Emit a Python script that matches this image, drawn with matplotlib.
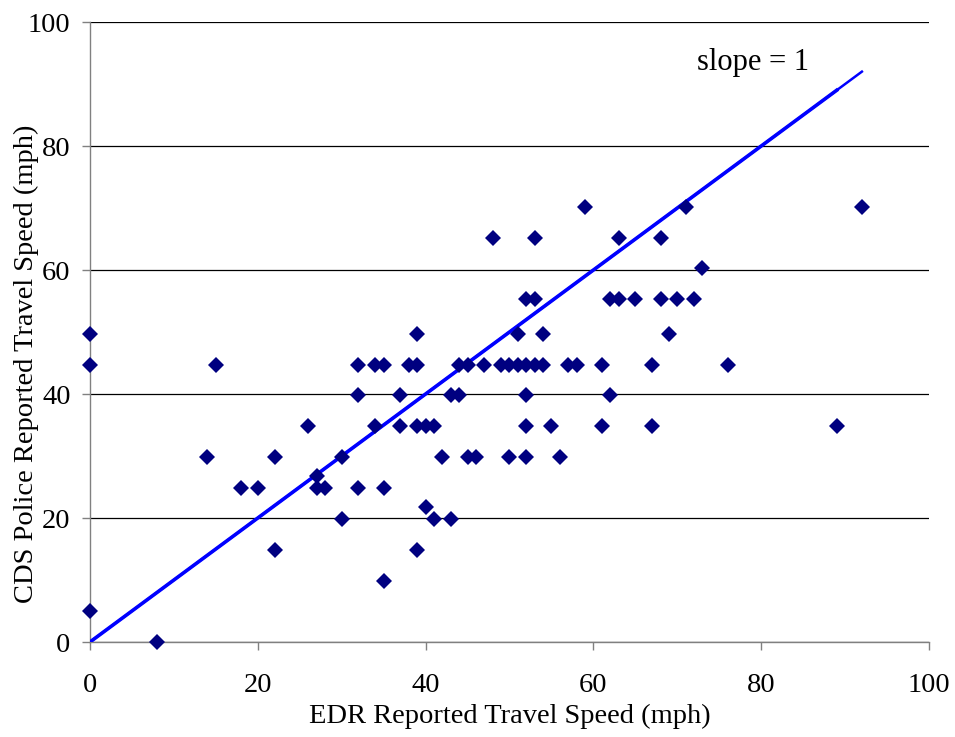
import matplotlib
matplotlib.use("Agg")
import matplotlib.pyplot as plt

# EDR vs police reported speeds (mph)
edr_speed = [0, 0, 0, 8, 14, 15, 18, 20, 22, 22, 26, 27, 27, 28, 30, 30,
             32, 32, 32, 34, 35, 34, 35, 35, 37, 37, 38, 39, 39, 39, 40, 41,
             40, 41, 39, 42, 43, 44, 43, 44, 45, 45, 46, 47, 48, 49, 50, 50,
             51, 51, 52, 52, 53, 52, 52, 52, 53, 53, 54, 54, 55, 56, 57, 58,
             59, 61, 61, 62, 62, 63, 63, 65, 67, 67, 68, 68, 69, 70, 71, 72,
             73, 76, 89, 92]
police_speed = [49.7, 44.7, 5.0, 0, 29.8, 44.7, 24.9, 24.9, 29.8, 14.9, 34.8, 26.7, 24.9, 24.9, 29.8, 19.9,
                44.7, 39.8, 24.9, 44.7, 44.7, 34.8, 24.9, 9.9, 39.8, 34.8, 44.7, 44.7, 49.7, 34.8, 34.8, 34.8,
                21.7, 19.9, 14.9, 29.8, 39.8, 39.8, 19.9, 44.7, 44.7, 29.8, 29.8, 44.7, 65.2, 44.7, 44.7, 29.8,
                49.7, 44.7, 44.7, 55.3, 55.3, 39.8, 34.8, 29.8, 65.2, 44.7, 44.7, 49.7, 34.8, 29.8, 44.7, 44.7,
                70.2, 44.7, 34.8, 55.3, 39.8, 55.3, 65.2, 55.3, 44.7, 34.8, 65.2, 55.3, 49.7, 55.3, 70.2, 55.3,
                60.3, 44.7, 34.8, 70.2]

# slope = 1 reference lines (two overlapping in the original)
ref_x1 = [0, 92]
ref_x2 = [0, 89]

plt.rcParams['font.family'] = ['Liberation Serif', 'DejaVu Serif']

fig = plt.figure(figsize=(9.55, 7.37), dpi=100)
ax = fig.add_axes([0.0942, 0.1289, 0.8786, 0.8412])

ax.plot(ref_x1, ref_x1, color='#0000FF', lw=1.8, zorder=3)
ax.plot(ref_x2, ref_x2, color='#0000FF', lw=2.6, zorder=3)
ax.plot(edr_speed, police_speed, 'D', color='#000080', ms=8.6, mew=0, zorder=4,
        clip_on=False)

ax.set_xlim(0, 100)
ax.set_ylim(0, 100)
ax.set_xticks(range(0, 101, 20))
ax.set_yticks(range(0, 101, 20))
ax.yaxis.grid(True, color='black', lw=0.9)
ax.set_axisbelow(True)

for s in ['top', 'right']:
    ax.spines[s].set_visible(False)
for s in ['left', 'bottom']:
    ax.spines[s].set_color('#808080')
    ax.spines[s].set_linewidth(1.0)

ax.tick_params(axis='x', length=6, width=1, color='#808080', pad=16, labelsize=20.5)
ax.tick_params(axis='y', length=6, width=1, color='#808080', pad=8, labelsize=20.5)

ax.set_xlabel('EDR Reported Travel Speed (mph)', fontsize=20.5)
ax.xaxis.set_label_coords(0.5, -0.10)
ax.set_ylabel('CDS Police Reported Travel Speed (mph)', fontsize=20.5)
ax.yaxis.set_label_coords(-0.061, 0.449)

ax.text(72.3, 93.5, 'slope = 1', fontsize=22, va='center', ha='left')

fig.savefig('out.png', dpi=100)
